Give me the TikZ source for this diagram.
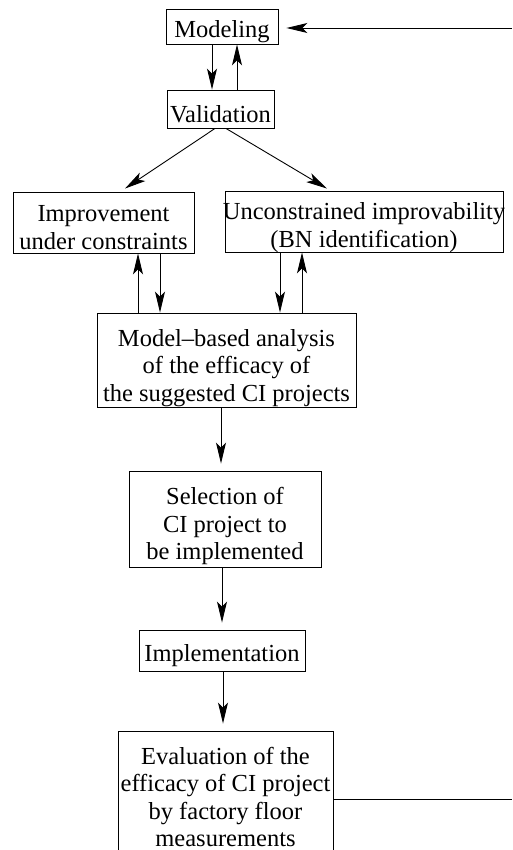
\documentclass[tikz,border=0pt]{standalone}
\usepackage{fontspec}
\setmainfont{Liberation Serif}
\usetikzlibrary{arrows.meta}
\begin{document}
\begin{tikzpicture}[x=1pt,y=-1pt,
  box/.style 2 args={draw, line width=0.9pt, inner sep=0pt,
    minimum width=#1pt, minimum height=#2pt},
  txt/.style={align=center, inner sep=0pt, font=\fontsize{24.5}{27.5}\selectfont},
  arr/.style={line width=0.9pt, -{Stealth[length=21pt,width=10pt,inset=5pt]}},
  plain/.style={line width=0.9pt}]
\useasboundingbox (0,0) rectangle (512,850);
\begin{scope}
\clip (0,0) rectangle (512,850);

% process boxes, each with its caption set slightly below centre
\node[box={112}{35}, label={[txt,yshift=-5pt]center:{Modeling}}] (mod) at (222,26.5) {};
\node[box={107}{38}, label={[txt,yshift=-5pt]center:{Validation}}] (val) at (220.5,109) {};
\node[box={181}{61}, label={[txt,yshift=-5pt]center:{Improvement\\under constraints}}] (imp) at (103.5,222.5) {};
\node[box={278}{61}, label={[txt,yshift=-6pt]center:{Unconstrained improvability\\(BN identification)}}] (unc) at (364,221.5) {};
\node[box={259}{94}, label={[txt,yshift=-8pt]center:{Model--based analysis\\of the efficacy of\\the suggested CI projects}}] (mba) at (226.5,360) {};
\node[box={192}{96}, label={[txt,yshift=-7pt]center:{Selection of\\CI project to\\be implemented}}] (sel) at (225,519) {};
\node[box={166}{41}, label={[txt,yshift=-5pt]center:{Implementation}}] (impl) at (222,650.5) {};
\node[box={215}{132}, label={[txt,yshift=0pt]center:{Evaluation of the\\efficacy of CI project\\by factory floor\\measurements}}] (eval) at (225.5,797) {};

% Modeling <-> Validation
\coordinate (m1) at ([xshift=-10pt]mod.south);
\coordinate (m2) at ([xshift=16.5pt]val.north);
\draw[arr] (m1) -- (m1 |- val.north);
\draw[arr] (m2) -- (m2 |- mod.south);

% Validation branches
\draw[arr] ([xshift=-5.5pt]val.south) -- ([xshift=21.5pt,yshift=3pt]imp.north);
\draw[arr] ([xshift=5.5pt]val.south) -- ([xshift=-37pt,yshift=2pt]unc.north);

% branches <-> model-based analysis
\coordinate (b1) at ([xshift=-88.5pt]mba.north);
\coordinate (b2) at ([xshift=-66.5pt]mba.north);
\coordinate (b3) at ([xshift=53.5pt]mba.north);
\coordinate (b4) at ([xshift=75.5pt]mba.north);
\draw[arr] (b1) -- (b1 |- imp.south);
\draw[arr] (b2 |- imp.south) -- (b2);
\draw[arr] (b3 |- unc.south) -- (b3);
\draw[arr] (b4) -- (b4 |- unc.south);

% main flow downwards
\coordinate (d1) at ([xshift=-5.5pt]mba.south);
\draw[arr] (d1) -- ([yshift=7pt]d1 |- sel.north);
\coordinate (d2) at ([xshift=-3pt]sel.south);
\draw[arr] (d2) -- ([yshift=7pt]d2 |- impl.north);
\coordinate (d3) at ([xshift=1pt]impl.south);
\draw[arr] (d3) -- ([yshift=7pt]d3 |- eval.north);

% feedback loop back to Modeling
\coordinate (fbA) at (512,799);
\coordinate (fbB) at (512,28);
\draw[plain] ([yshift=-2pt]eval.east) -- ([yshift=-2pt]eval.east -| fbA);
\draw[arr] (fbB) -- ([xshift=8pt]mod.east |- fbB);
\end{scope}
\end{tikzpicture}
\end{document}
